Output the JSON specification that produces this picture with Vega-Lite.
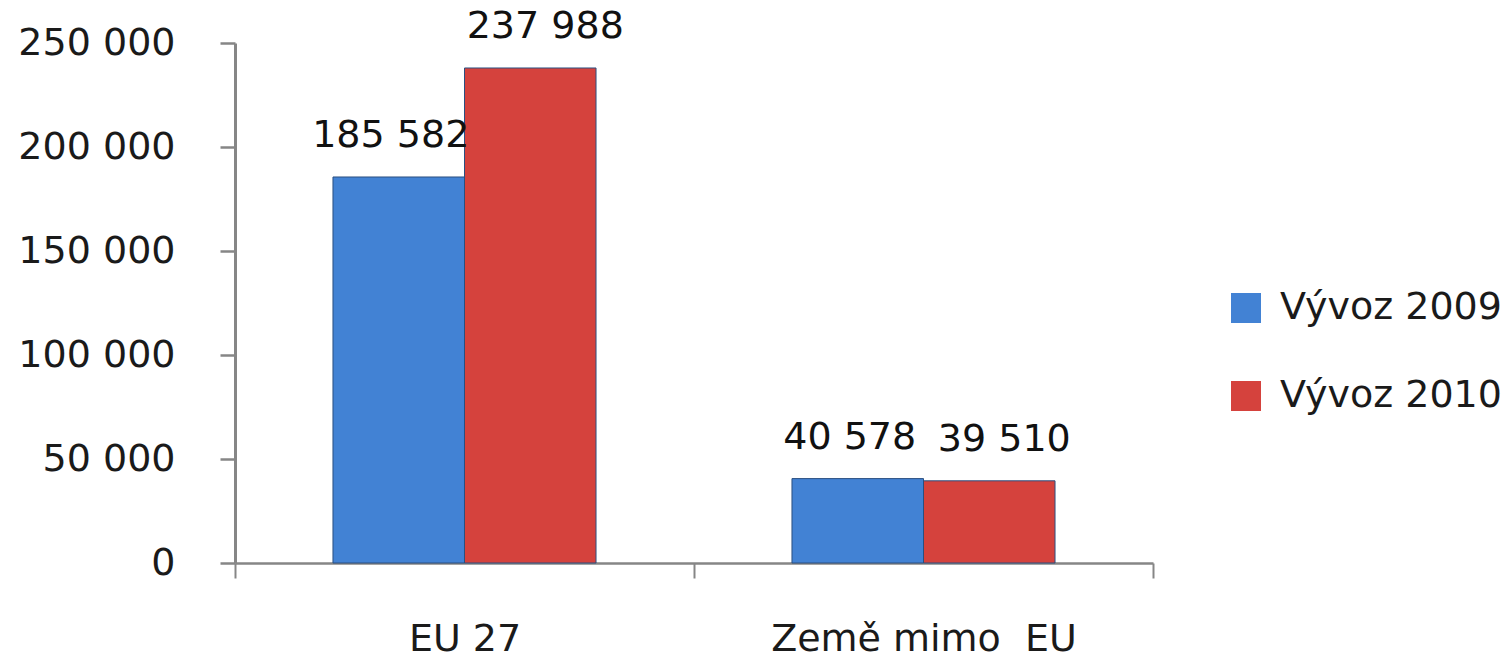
{
  "$schema": "https://vega.github.io/schema/vega-lite/v6.json",
  "autosize": {"type": "none"},
  "width": 918,
  "height": 520,
  "padding": {"left": 235, "top": 43, "right": 353, "bottom": 98},
  "background": "white",
  "config": {
    "view": {"stroke": null},
    "font": "DejaVu Sans",
    "locale": {"number": {"decimal": ",", "thousands": " ", "grouping": [3], "currency": ["", " Kč"]}}
  },
  "data": {
    "values": [
      {"region": "EU 27", "series": "Vývoz 2009", "value": 185582},
      {"region": "EU 27", "series": "Vývoz 2010", "value": 237988},
      {"region": "Země mimo \u00a0EU", "series": "Vývoz 2009", "value": 40578},
      {"region": "Země mimo \u00a0EU", "series": "Vývoz 2010", "value": 39510}
    ]
  },
  "encoding": {
    "x": {
      "field": "region", "type": "nominal", "sort": null,
      "scale": {"paddingInner": 0, "paddingOuter": 0},
      "axis": {
        "title": null, "labelAngle": 0, "labelFontSize": 38, "labelColor": "#1a1a1a",
        "labelPadding": 42, "tickBand": "extent", "tickSize": 15, "tickColor": "#868686",
        "tickWidth": 2, "domainColor": "#868686", "domainWidth": 2.5, "labelLimit": 0
      }
    },
    "xOffset": {"field": "series", "type": "nominal", "scale": {"paddingInner": 0, "paddingOuter": 0.745}},
    "y": {
      "field": "value", "type": "quantitative",
      "scale": {"domain": [0, 250000], "nice": false},
      "axis": {
        "title": null, "values": [0, 50000, 100000, 150000, 200000, 250000], "format": ",d",
        "labelFontSize": 38, "labelColor": "#1a1a1a", "labelPadding": 45, "tickSize": 15,
        "tickColor": "#868686", "tickWidth": 2.5, "domainColor": "#868686", "domainWidth": 3,
        "grid": false
      }
    }
  },
  "layer": [
    {
      "mark": {"type": "bar", "stroke": "#2a4f80", "strokeWidth": 1},
      "encoding": {
        "color": {
          "field": "series", "type": "nominal",
          "scale": {"domain": ["Vývoz 2009", "Vývoz 2010"], "range": ["#4282d4", "#d5423d"]},
          "legend": {
            "title": null, "orient": "none", "legendX": 992, "legendY": 246,
            "symbolType": "square", "symbolSize": 900, "symbolStrokeWidth": 0,
            "labelFontSize": 38, "labelColor": "#1a1a1a", "labelOffset": 15,
            "rowPadding": 50, "labelLimit": 0
          }
        }
      }
    },
    {
      "transform": [{"filter": "datum.series == 'Vývoz 2009'"}],
      "mark": {"type": "text", "fontSize": 38, "color": "#111111", "baseline": "alphabetic", "dy": -30, "dx": -8},
      "encoding": {"text": {"field": "value", "type": "quantitative", "format": ",d"}}
    },
    {
      "transform": [{"filter": "datum.series == 'Vývoz 2010'"}],
      "mark": {"type": "text", "fontSize": 38, "color": "#111111", "baseline": "alphabetic", "dy": -30, "dx": 15},
      "encoding": {"text": {"field": "value", "type": "quantitative", "format": ",d"}}
    }
  ]
}
